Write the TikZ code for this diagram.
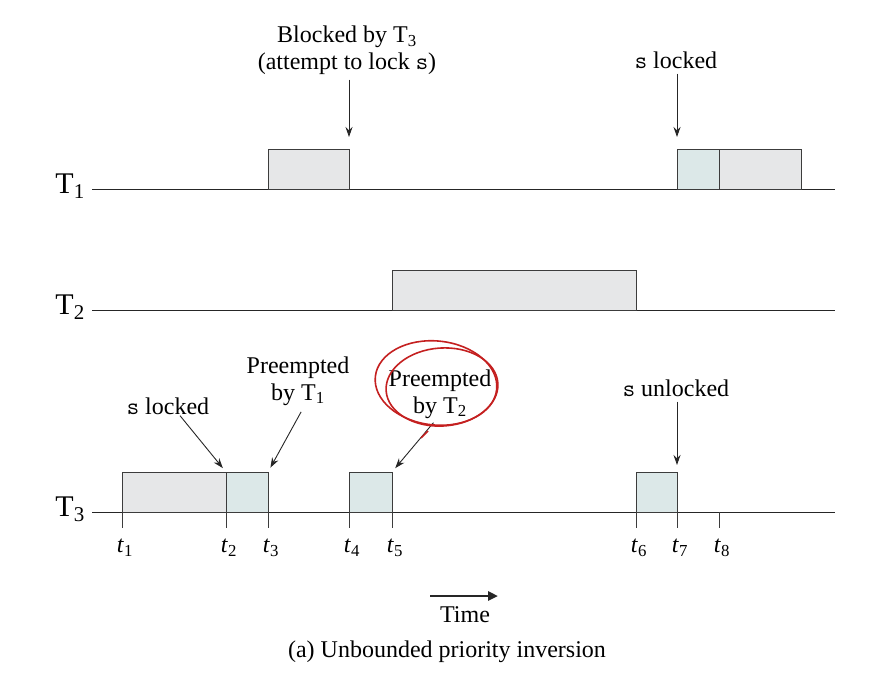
\documentclass[tikz,border=0pt]{standalone}
\usepackage{fontspec}
\setmainfont{Liberation Serif}
\usetikzlibrary{arrows.meta,positioning,calc}
\definecolor{busygrey}{RGB}{230,231,232}
\definecolor{lockteal}{RGB}{220,232,232}
\definecolor{inkred}{RGB}{196,32,32}
\definecolor{linegrey}{RGB}{60,60,60}

\begin{document}
\begin{tikzpicture}[x=1pt, y=-1pt,
    task/.style={font=\fontsize{30}{32}\selectfont, anchor=east, inner sep=0pt},
    lbl/.style={font=\fontsize{24}{27}\selectfont, align=center, inner sep=1pt},
    slot/.style={rectangle, draw=linegrey, line width=0.9pt, anchor=south west,
                 minimum height=40pt, inner sep=0pt, outer sep=0pt},
    idle/.style={slot, fill=busygrey},
    crit/.style={slot, fill=lockteal},
    axis/.style={black!85, line width=0.9pt},
    tick/.style={linegrey, line width=0.9pt},
    arr/.style={-{Stealth[length=10pt, width=7pt]}, line width=0.9pt, black!85},
    scribble/.style={inkred, line width=1.6pt}
]
\useasboundingbox (0,0) rectangle (874,674);

% task lines
\node[task] (T1) at (85,186) {T\textsubscript{1}};
\node[task] (T2) at (85,307) {T\textsubscript{2}};
\node[task] (T3) at (85,509) {T\textsubscript{3}};
\draw[axis] (92,189) -- (835,189);
\draw[axis] (92,310) -- (835,310);
\draw[axis] (92,512) -- (835,512);

% T1
\node[idle, minimum width=81pt] (a1) at (268,189) {};
\node[crit, minimum width=42pt] (b1) at (677,189) {};
\node[idle, minimum width=82pt] (c1) at (719,189) {};

% T2
\node[idle, minimum width=244pt] (a2) at (392,310) {};

% T3
\node[idle, minimum width=104pt] (a3) at (122,512) {};
\node[crit, minimum width=42pt] (b3) at (226,512) {};
\node[crit, minimum width=43pt] (c3) at (349,512) {};
\node[crit, minimum width=41pt] (d3) at (636,512) {};

% time marks
\foreach \x/\i in {122/1,226/2,268/3,349/4,392/5,636/6,677/7,719/8}{
  \draw[tick] (\x,512) -- (\x,528);
  \node[lbl] (t\i) at (\x+3,548) {\textit{t}\textsubscript{\i}};
}

% labels and arrows
\node[lbl] (blk) at (347,50) {Blocked by T\textsubscript{3}\\(attempt to lock \texttt{s})};
\node[lbl] (lk1) at (676,60) {\texttt{s} locked};
\node[lbl] (lk3) at (168,406) {\texttt{s} locked};
\node[lbl] (pre1) at (298,381) {Preempted\\by T\textsubscript{1}};
\node[lbl] (pre2) at (440,394) {Preempted\\by T\textsubscript{2}};
\node[lbl] (ulk) at (676,388) {\texttt{s} unlocked};

\draw[arr, shorten <=4pt, shorten >=12pt] (blk.south -| a1.north east) -- (a1.north east);
\draw[arr, shorten <=4pt, shorten >=12pt] (lk1.south -| b1.north west) -- (b1.north west);
\draw[arr, shorten >=5pt] ([xshift=12pt]lk3.south) -- (b3.north west);
\draw[arr, shorten <=6pt, shorten >=5pt] ([xshift=6pt]pre1.south) -- (b3.north east);
\draw[arr, shorten <=4pt, shorten >=5pt] ([xshift=-4pt]pre2.south) -- (c3.north east);
\draw[arr, shorten <=4pt, shorten >=7pt] (ulk.south -| d3.north east) -- (d3.north east);

% hand-drawn mark
\draw[scribble] (436,383) ellipse [x radius=61pt, y radius=42pt, rotate=-6];
\draw[scribble] (442,387) ellipse [x radius=56pt, y radius=39pt, rotate=4];
\draw[scribble] (421,438) -- (428,431);

% time arrow and caption
\node[lbl] (time) at (465,615) {Time};
\coordinate (ts) at (430,596);
\coordinate (te) at (498,596);
\draw[-{Triangle[length=10pt, width=9pt]}, line width=2.6pt, black!85] (ts) -- (te);
\node[lbl] (cap) at (447,652) {(a) Unbounded priority inversion};
\end{tikzpicture}
\end{document}
